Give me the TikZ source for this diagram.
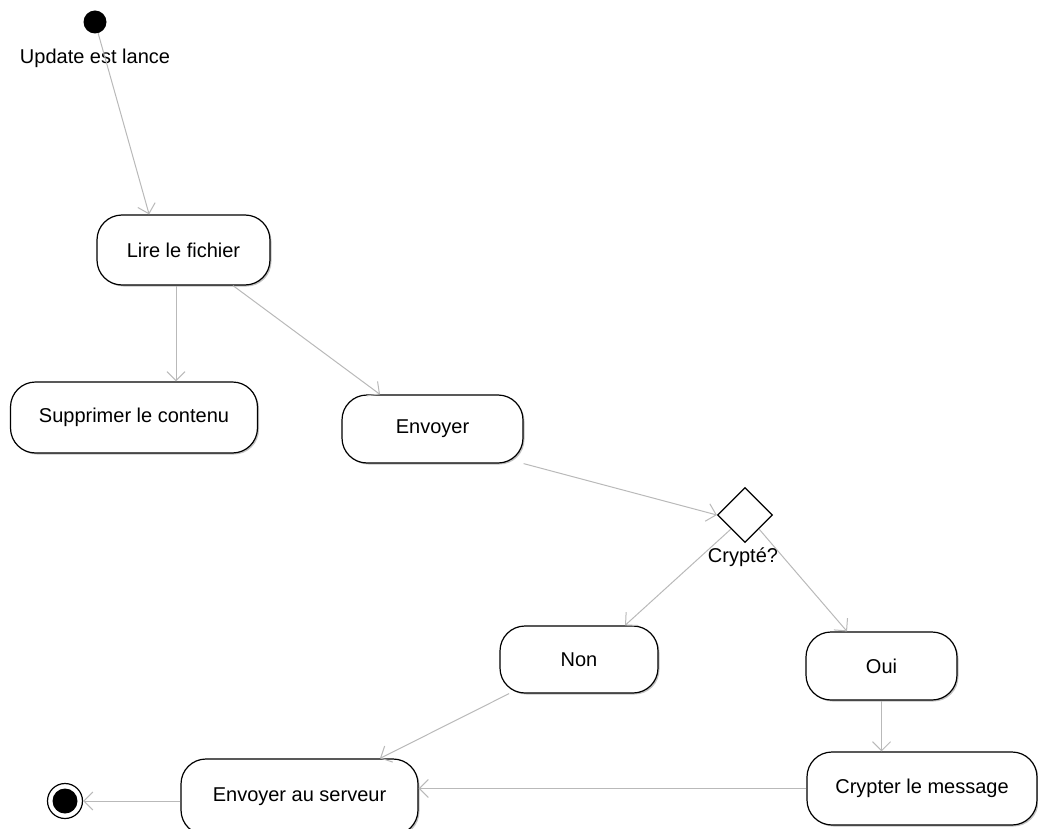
\documentclass[tikz,border=0pt]{standalone}
\usepackage{fontspec}
\setmainfont{Liberation Sans}
\usetikzlibrary{shapes.geometric, arrows.meta, shadows}
\definecolor{flowgrey}{RGB}{185,185,185}

\begin{document}
\begin{tikzpicture}[x=1pt, y=-1pt, >={Straight Barb[length=9pt,width=18pt]},
    font=\fontsize{20}{24}\selectfont,
    activity/.style={draw, line width=1.2pt, rounded corners=25pt, fill=white, inner sep=0pt,
      drop shadow={shadow xshift=1.5pt, shadow yshift=-1.5pt, fill=black!40, opacity=0.6}},
    initstate/.style={circle, fill=black, minimum size=23pt, inner sep=0pt},
    endstate/.style={circle, draw, line width=1.2pt, minimum size=35pt, inner sep=0pt,
      path picture={\fill (path picture bounding box.center) circle (12.5pt);}},
    decision/.style={diamond, draw, line width=1.2pt, fill=white, minimum size=55pt, inner sep=0pt},
    flow/.style={->, flowgrey, line width=1pt}]
      \clip (0,0) rectangle (1038,829);
      % Start
      \node[initstate] (start) at (95,22) {};
      \node (startlbl) at (95,58) {Update est lance};
      % Activities
      \node[activity, minimum width=173pt, minimum height=70pt] (lire) at (183.5,250) {Lire le fichier};
      \node[activity, minimum width=247pt, minimum height=71pt] (suppr) at (134,417.5) {Supprimer le contenu};
      \node[activity, minimum width=181pt, minimum height=68pt] (envoyer) at (432.5,429) {Envoyer};
      % Decision
      \node[decision] (crypte) at (745,515) {};
      \node (cryptelbl) at (743,557) {Crypté?};
      \node[activity, minimum width=158pt, minimum height=67pt] (non) at (579,659.5) {Non};
      \node[activity, minimum width=151pt, minimum height=68pt] (oui) at (881.5,666) {Oui};
      \node[activity, minimum width=230pt, minimum height=73pt] (crypter) at (922,788.5) {Crypter le message};
      \node[activity, minimum width=237pt, minimum height=76pt] (serveur) at (299.5,797) {Envoyer au serveur};
      % End
      \node[endstate] (end) at (65,801) {};
      % Flows
      \draw[flow] (start) -- (lire.134);
      \draw[flow] ([xshift=-7.5pt]lire.south) -- ([xshift=-7.5pt]lire.south |- suppr.north);
      \draw[flow] ([xshift=49.5pt]lire.south) -- ([xshift=-52.5pt]envoyer.north);
      \draw[flow] (envoyer.south east) -- (crypte.west);
      \draw[flow] (crypte.south west) -- ([xshift=46pt]non.north);
      \draw[flow] (crypte.south east) -- ([xshift=-34.5pt]oui.north);
      \draw[flow] (oui.south) -- (oui.south |- crypter.north);
      \draw[flow] (crypter.west) -- (crypter.west -| serveur.east);
      \draw[flow] (non.206) -- ([xshift=80.5pt]serveur.north);
      \draw[flow] (serveur.west |- end) -- (end);
\end{tikzpicture}
\end{document}
